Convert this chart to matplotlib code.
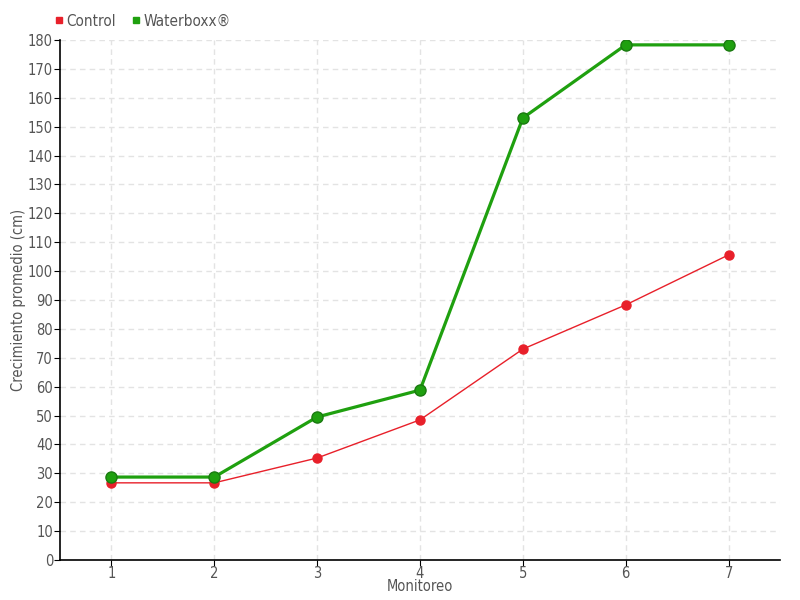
import matplotlib
matplotlib.use('agg')
import matplotlib.pyplot as plt
from matplotlib.lines import Line2D
import numpy as np

# data
monitoreo = [1, 2, 3, 4, 5, 6, 7]
control = [26.7, 26.7, 35.3, 48.5, 73.0, 88.3, 105.6]
waterboxx = [28.7, 28.7, 49.5, 58.8, 153.0, 178.3, 178.3]

red = '#e8202a'
green = '#1fa00f'
txt = '#555555'

plt.rcParams['font.family'] = ['DejaVu Sans']
plt.rcParams['font.stretch'] = 'condensed'
plt.rcParams['font.weight'] = 'light'

fig = plt.figure(figsize=(8, 6), dpi=100)
ax = fig.add_axes([0.075, 0.0667, 0.9, 0.8667])

ax.plot(monitoreo, control, '-o', color=red, lw=1, markersize=6.5,
        markeredgecolor=red, zorder=3)
ax.plot(monitoreo, waterboxx, '-o', color=green, lw=2.3, markersize=8,
        markeredgecolor='#1a7a10', markeredgewidth=1, zorder=4)

ax.set_xlim(0.5, 7.5)
ax.set_ylim(0, 180)
ax.set_xticks(monitoreo)
ax.set_yticks(np.arange(0, 181, 10))
ax.grid(True, color='#e3e3e3', linestyle=(0, (4, 3)), linewidth=1)
ax.set_axisbelow(True)
for s in ['top', 'right']:
    ax.spines[s].set_visible(False)
ax.spines['left'].set_linewidth(1.2)
ax.spines['bottom'].set_linewidth(1.2)
ax.tick_params(axis='both', labelsize=10.5, colors=txt, length=4, pad=1)
ax.tick_params(axis='x', pad=0)
ax.tick_params(axis='both', color='black')

ax.set_xlabel('Monitoreo', fontsize=10.5, color=txt, labelpad=-1)
ax.set_ylabel('Crecimiento promedio (cm)', fontsize=10.5, color=txt, labelpad=1)

handles = [Line2D([], [], marker='s', color=red, ls='', markersize=5),
           Line2D([], [], marker='s', color=green, ls='', markersize=5)]
fig.legend(handles, ['Control', 'Waterboxx®'], loc='upper left',
           bbox_to_anchor=(0.047, 1.0), ncol=2, frameon=False,
           fontsize=11, labelcolor=txt, handletextpad=0.0,
           columnspacing=0.8, handlelength=1.0)

plt.savefig('out.png', dpi=100)
plt.close('all')
